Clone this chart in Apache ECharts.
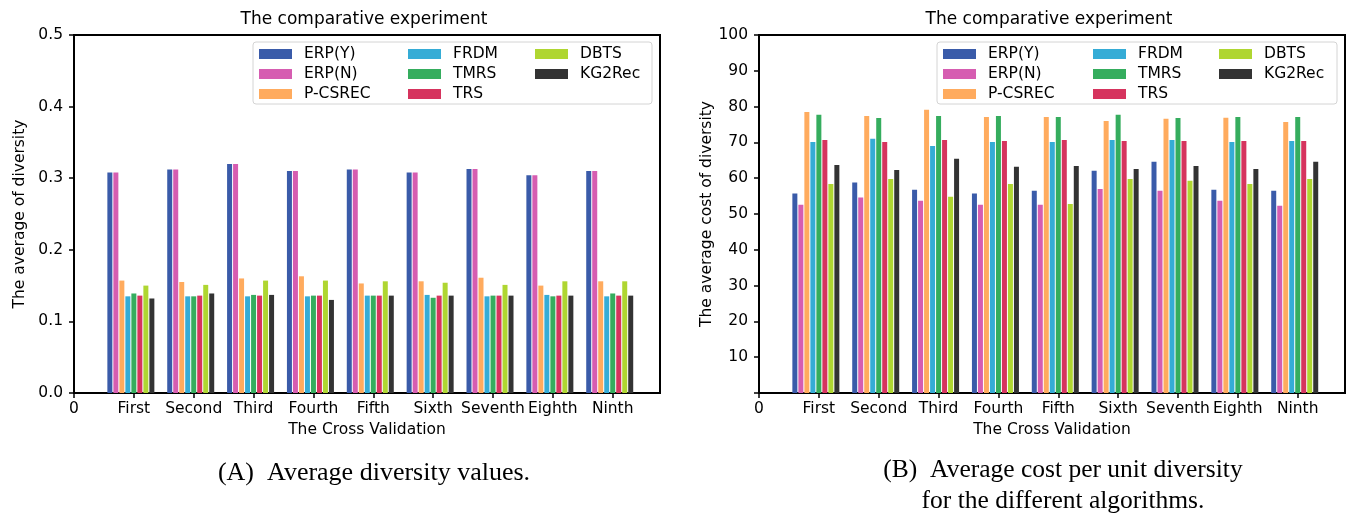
<!DOCTYPE html>
<html>
<head>
<meta charset="utf-8">
<script src="https://cdn.jsdelivr.net/npm/echarts@6/dist/echarts.min.js"></script>
<style>
    html, body { margin: 0; padding: 0; background: #fff; }
    #chart { width: 1351px; height: 519px; }
</style>
</head>
<body>
<div id="chart"></div>
<script>
// tick labels of the cross-validation axis (position 0 is the bare "0")
const xTickLabels = ['0', 'First', 'Second', 'Third', 'Fourth', 'Fifth', 'Sixth', 'Seventh', 'Eighth', 'Ninth'];
const seriesNames = ['ERP(Y)', 'ERP(N)', 'P-CSREC', 'FRDM', 'TMRS', 'TRS', 'DBTS', 'KG2Rec'];
const seriesColors = ['#3a5ba9', '#d65db1', '#ffab5e', '#35acd6', '#35ad5e', '#d6345e', '#afd631', '#333333'];

// (A) average diversity
const divErpY   = [0.308, 0.312, 0.320, 0.310, 0.312, 0.308, 0.313, 0.304, 0.310];
const divErpN   = [0.308, 0.312, 0.320, 0.310, 0.312, 0.308, 0.313, 0.304, 0.310];
const divPcsrec = [0.157, 0.155, 0.160, 0.163, 0.153, 0.156, 0.161, 0.150, 0.156];
const divFrdm   = [0.135, 0.135, 0.135, 0.135, 0.136, 0.137, 0.135, 0.137, 0.135];
const divTmrs   = [0.139, 0.135, 0.137, 0.136, 0.136, 0.133, 0.136, 0.135, 0.139];
const divTrs    = [0.136, 0.136, 0.136, 0.136, 0.136, 0.136, 0.136, 0.136, 0.136];
const divDbts   = [0.150, 0.151, 0.157, 0.157, 0.156, 0.154, 0.151, 0.156, 0.156];
const divKg2rec = [0.132, 0.139, 0.137, 0.130, 0.136, 0.136, 0.136, 0.136, 0.136];

// (B) average cost per unit diversity
const costErpY   = [55.7, 58.8, 56.8, 55.7, 56.5, 62.1, 64.6, 56.8, 56.5];
const costErpN   = [52.6, 54.6, 53.7, 52.6, 52.6, 57.0, 56.5, 53.7, 52.3];
const costPcsrec = [78.5, 77.4, 79.1, 77.1, 77.1, 76.0, 76.6, 76.9, 75.7];
const costFrdm   = [70.1, 71.0, 69.0, 70.1, 70.1, 70.7, 70.7, 70.1, 70.4];
const costTmrs   = [77.7, 76.8, 77.4, 77.4, 77.1, 77.7, 76.8, 77.1, 77.1];
const costTrs    = [70.7, 70.1, 70.7, 70.4, 70.7, 70.4, 70.4, 70.4, 70.4];
const costDbts   = [58.4, 59.8, 54.8, 58.4, 52.8, 59.8, 59.3, 58.4, 59.8];
const costKg2rec = [63.7, 62.3, 65.4, 63.2, 63.4, 62.6, 63.4, 62.6, 64.6];

const diversitySeries = [divErpY, divErpN, divPcsrec, divFrdm, divTmrs, divTrs, divDbts, divKg2rec];
const costSeries = [costErpY, costErpN, costPcsrec, costFrdm, costTmrs, costTrs, costDbts, costKg2rec];

const FONT = 'DejaVu Sans';
const CAPTION_FONT = 'Liberation Serif';
const X_MAX = 9.79;
const GROUP_SHIFT = 0.05;   // matplotlib groups sit slightly left of the tick
const xTickValues = xTickLabels.map((_, i) => i);

const panels = [
    { left: 74, width: 586, yMax: 0.5, yInterval: 0.1, yName: 'The average of diversity', yGap: 46, legendX: [259, 408, 535], box: [253, 42, 399, 62] },
    { left: 759, width: 586, yMax: 100, yInterval: 10, yName: 'The average cost of diversity', yGap: 38, legendX: [943, 1093, 1219], box: [937, 42, 400, 62] },
];
const GRID_TOP = 35;
const GRID_HEIGHT = 358;

const chart = echarts.init(document.getElementById('chart'));

const grid = panels.map((p) => ({
    left: p.left,
    top: GRID_TOP,
    width: p.width,
    height: GRID_HEIGHT,
    show: true,
    borderColor: '#000',
    borderWidth: 2,
    backgroundColor: 'transparent',
}));

const xAxis = panels.map((p, i) => ({
    type: 'value',
    gridIndex: i,
    min: 0,
    max: X_MAX,
    interval: 1,
    name: 'The Cross Validation',
    nameLocation: 'middle',
    nameGap: 27,
    nameTextStyle: { fontFamily: FONT, fontSize: 15.5, color: '#000' },
    axisLine: { show: true, lineStyle: { color: '#000', width: 2 } },
    axisTick: { show: true, length: 5, customValues: xTickValues, lineStyle: { color: '#000', width: 1.5 } },
    axisLabel: {
        fontFamily: FONT,
        fontSize: 15.5,
        color: '#000',
        margin: 8,
        customValues: xTickValues,
        formatter: (v) => (Number.isInteger(v) ? xTickLabels[v] : ''),
    },
    splitLine: { show: false },
}));

const yAxis = panels.map((p, i) => ({
    type: 'value',
    gridIndex: i,
    min: 0,
    max: p.yMax,
    interval: p.yInterval,
    name: p.yName,
    nameLocation: 'middle',
    nameRotate: 90,
    nameGap: p.yGap,
    nameTextStyle: { fontFamily: FONT, fontSize: 15.5, color: '#000' },
    axisLine: { show: true, lineStyle: { color: '#000', width: 2 } },
    axisTick: { show: true, length: 5, lineStyle: { color: '#000', width: 1.5 } },
    axisLabel: {
        fontFamily: FONT,
        fontSize: 15.5,
        color: '#000',
        margin: 11,
        formatter: i === 0
            ? (v) => v.toFixed(1)
            : (v) => (v === 0 ? '' : String(v)),
    },
    splitLine: { show: false },
}));

const series = [];
[diversitySeries, costSeries].forEach((group, panelIdx) => {
    group.forEach((values, k) => {
        series.push({
            type: 'bar',
            name: seriesNames[k],
            xAxisIndex: panelIdx,
            yAxisIndex: panelIdx,
            barWidth: 5,
            barGap: '20%',
            itemStyle: { color: seriesColors[k] },
            emphasis: { disabled: true },
            data: values.map((v, j) => [j + 1 - GROUP_SHIFT, v]),
        });
    });
});

// matplotlib's ncol=3 legend fills column by column
const legendColumns = [seriesNames.slice(0, 3), seriesNames.slice(3, 6), seriesNames.slice(6)];
const legend = [];
panels.forEach((p) => {
    legendColumns.forEach((names, c) => {
        legend.push({
            orient: 'vertical',
            left: p.legendX[c],
            top: 46,
            padding: 0,
            itemGap: 4,
            itemWidth: 33,
            itemHeight: 10,
            icon: 'rect',
            selectedMode: false,
            data: names,
            textStyle: { fontFamily: FONT, fontSize: 15.5, color: '#000', padding: [0, 0, 0, 7] },
        });
    });
});

const graphic = [];
panels.forEach((p) => {
    graphic.push({
        type: 'rect',
        z: 1,
        shape: { x: p.box[0], y: p.box[1], width: p.box[2], height: p.box[3], r: 3 },
        style: { fill: 'rgba(255,255,255,0.8)', stroke: '#d4d4d4', lineWidth: 1 },
    });
    graphic.push({
        type: 'text',
        x: p.left + p.width / 2 - 3,
        y: 20,
        style: {
            text: 'The comparative experiment',
            font: `17px "${FONT}"`,
            fill: '#000',
            align: 'center',
            verticalAlign: 'middle',
            textAlign: 'center',
            textVerticalAlign: 'middle',
        },
    });
});
graphic.push({
    type: 'text',
    x: 374,
    y: 473,
    style: {
        text: '(A)  Average diversity values.',
        font: `26px "${CAPTION_FONT}"`,
        fill: '#000',
        align: 'center',
        verticalAlign: 'middle',
        textAlign: 'center',
        textVerticalAlign: 'middle',
    },
});
graphic.push({
    type: 'text',
    x: 1063,
    y: 486,
    style: {
        text: '(B)  Average cost per unit diversity\nfor the different algorithms.',
        font: `25.5px "${CAPTION_FONT}"`,
        lineHeight: 31,
        fill: '#000',
        align: 'center',
        verticalAlign: 'middle',
        textAlign: 'center',
        textVerticalAlign: 'middle',
    },
});

chart.setOption({
    animation: false,
    backgroundColor: '#fff',
    grid,
    xAxis,
    yAxis,
    legend,
    series,
    graphic,
});
</script>
</body>
</html>
